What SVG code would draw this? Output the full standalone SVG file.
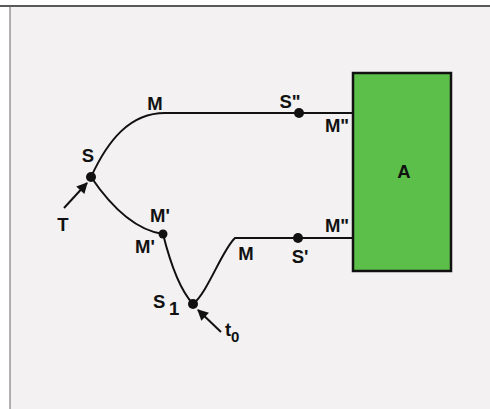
<svg xmlns="http://www.w3.org/2000/svg" width="490" height="409" viewBox="0 0 490 409">
<defs>
<style>
.t{font-family:"Liberation Sans",Arial,sans-serif;font-weight:bold;font-size:18.5px;fill:#111}
.s{font-family:"Liberation Sans",Arial,sans-serif;font-weight:bold;font-size:15px;fill:#111}
.ln{fill:none;stroke:#111;stroke-width:2}
.dot{fill:#111}
</style>
<marker id="ah" viewBox="0 0 10 10" refX="9" refY="5" markerWidth="7" markerHeight="5.5" orient="auto">
<path d="M0,0 L10,5 L0,10 z" fill="#111"/>
</marker>
</defs>
<rect x="0" y="0" width="490" height="409" fill="#fff"/>
<rect x="10" y="7" width="480" height="402" fill="#f3f1f1"/>
<line x1="0" y1="6" x2="490" y2="6" stroke="#222" stroke-width="1.5"/>
<line x1="10" y1="6" x2="10" y2="409" stroke="#666" stroke-width="1"/>
<g id="connectors">
<path class="ln" d="M91,177 C108,140 130,113 165,113 L353,113"/>
<path class="ln" d="M91,177 C110,205 135,230 163,234"/>
<path class="ln" d="M163,234 C170,262 180,290 193,304"/>
<path class="ln" d="M193,304 C208,292 222,250 235,238 L353,238"/>
<line class="ln" x1="64" y1="208" x2="87" y2="183" marker-end="url(#ah)"/>
<line class="ln" x1="221" y1="332" x2="198" y2="310" marker-end="url(#ah)"/>
</g>
<g id="A">
<rect x="353" y="73" width="98" height="198" fill="#5bbf4a" stroke="#111" stroke-width="2.5"/>
<text class="t" x="404" y="178" text-anchor="middle">A</text>
</g>
<g id="S">
<circle class="dot" cx="91" cy="177" r="5"/>
<text class="t" x="88" y="162" text-anchor="middle">S</text>
</g>
<g id="T">
<text class="t" x="63" y="231" text-anchor="middle">T</text>
</g>
<g id="M-top">
<text class="t" x="155" y="110" text-anchor="middle">M</text>
</g>
<g id="S2">
<circle class="dot" cx="299" cy="113" r="5"/>
<text class="t" x="290" y="108" text-anchor="middle">S"</text>
</g>
<g id="M2-top">
<text class="t" x="337" y="132" text-anchor="middle">M"</text>
</g>
<g id="M1">
<circle class="dot" cx="163" cy="234" r="4.5"/>
<text class="t" x="160" y="222" text-anchor="middle">M'</text>
<text class="t" x="145" y="253" text-anchor="middle">M'</text>
</g>
<g id="S1">
<circle class="dot" cx="193" cy="304" r="5"/>
<text class="t" x="153" y="308">S</text>
<text class="t" x="169" y="315">1</text>
</g>
<g id="t0">
<text class="t" x="225" y="336">t</text>
<text class="s" x="231" y="342">0</text>
</g>
<g id="M-bottom">
<text class="t" x="246" y="260" text-anchor="middle">M</text>
</g>
<g id="S1p">
<circle class="dot" cx="298" cy="238" r="5"/>
<text class="t" x="300" y="263" text-anchor="middle">S'</text>
</g>
<g id="M2-bottom">
<text class="t" x="337" y="232" text-anchor="middle">M"</text>
</g>
</svg>
